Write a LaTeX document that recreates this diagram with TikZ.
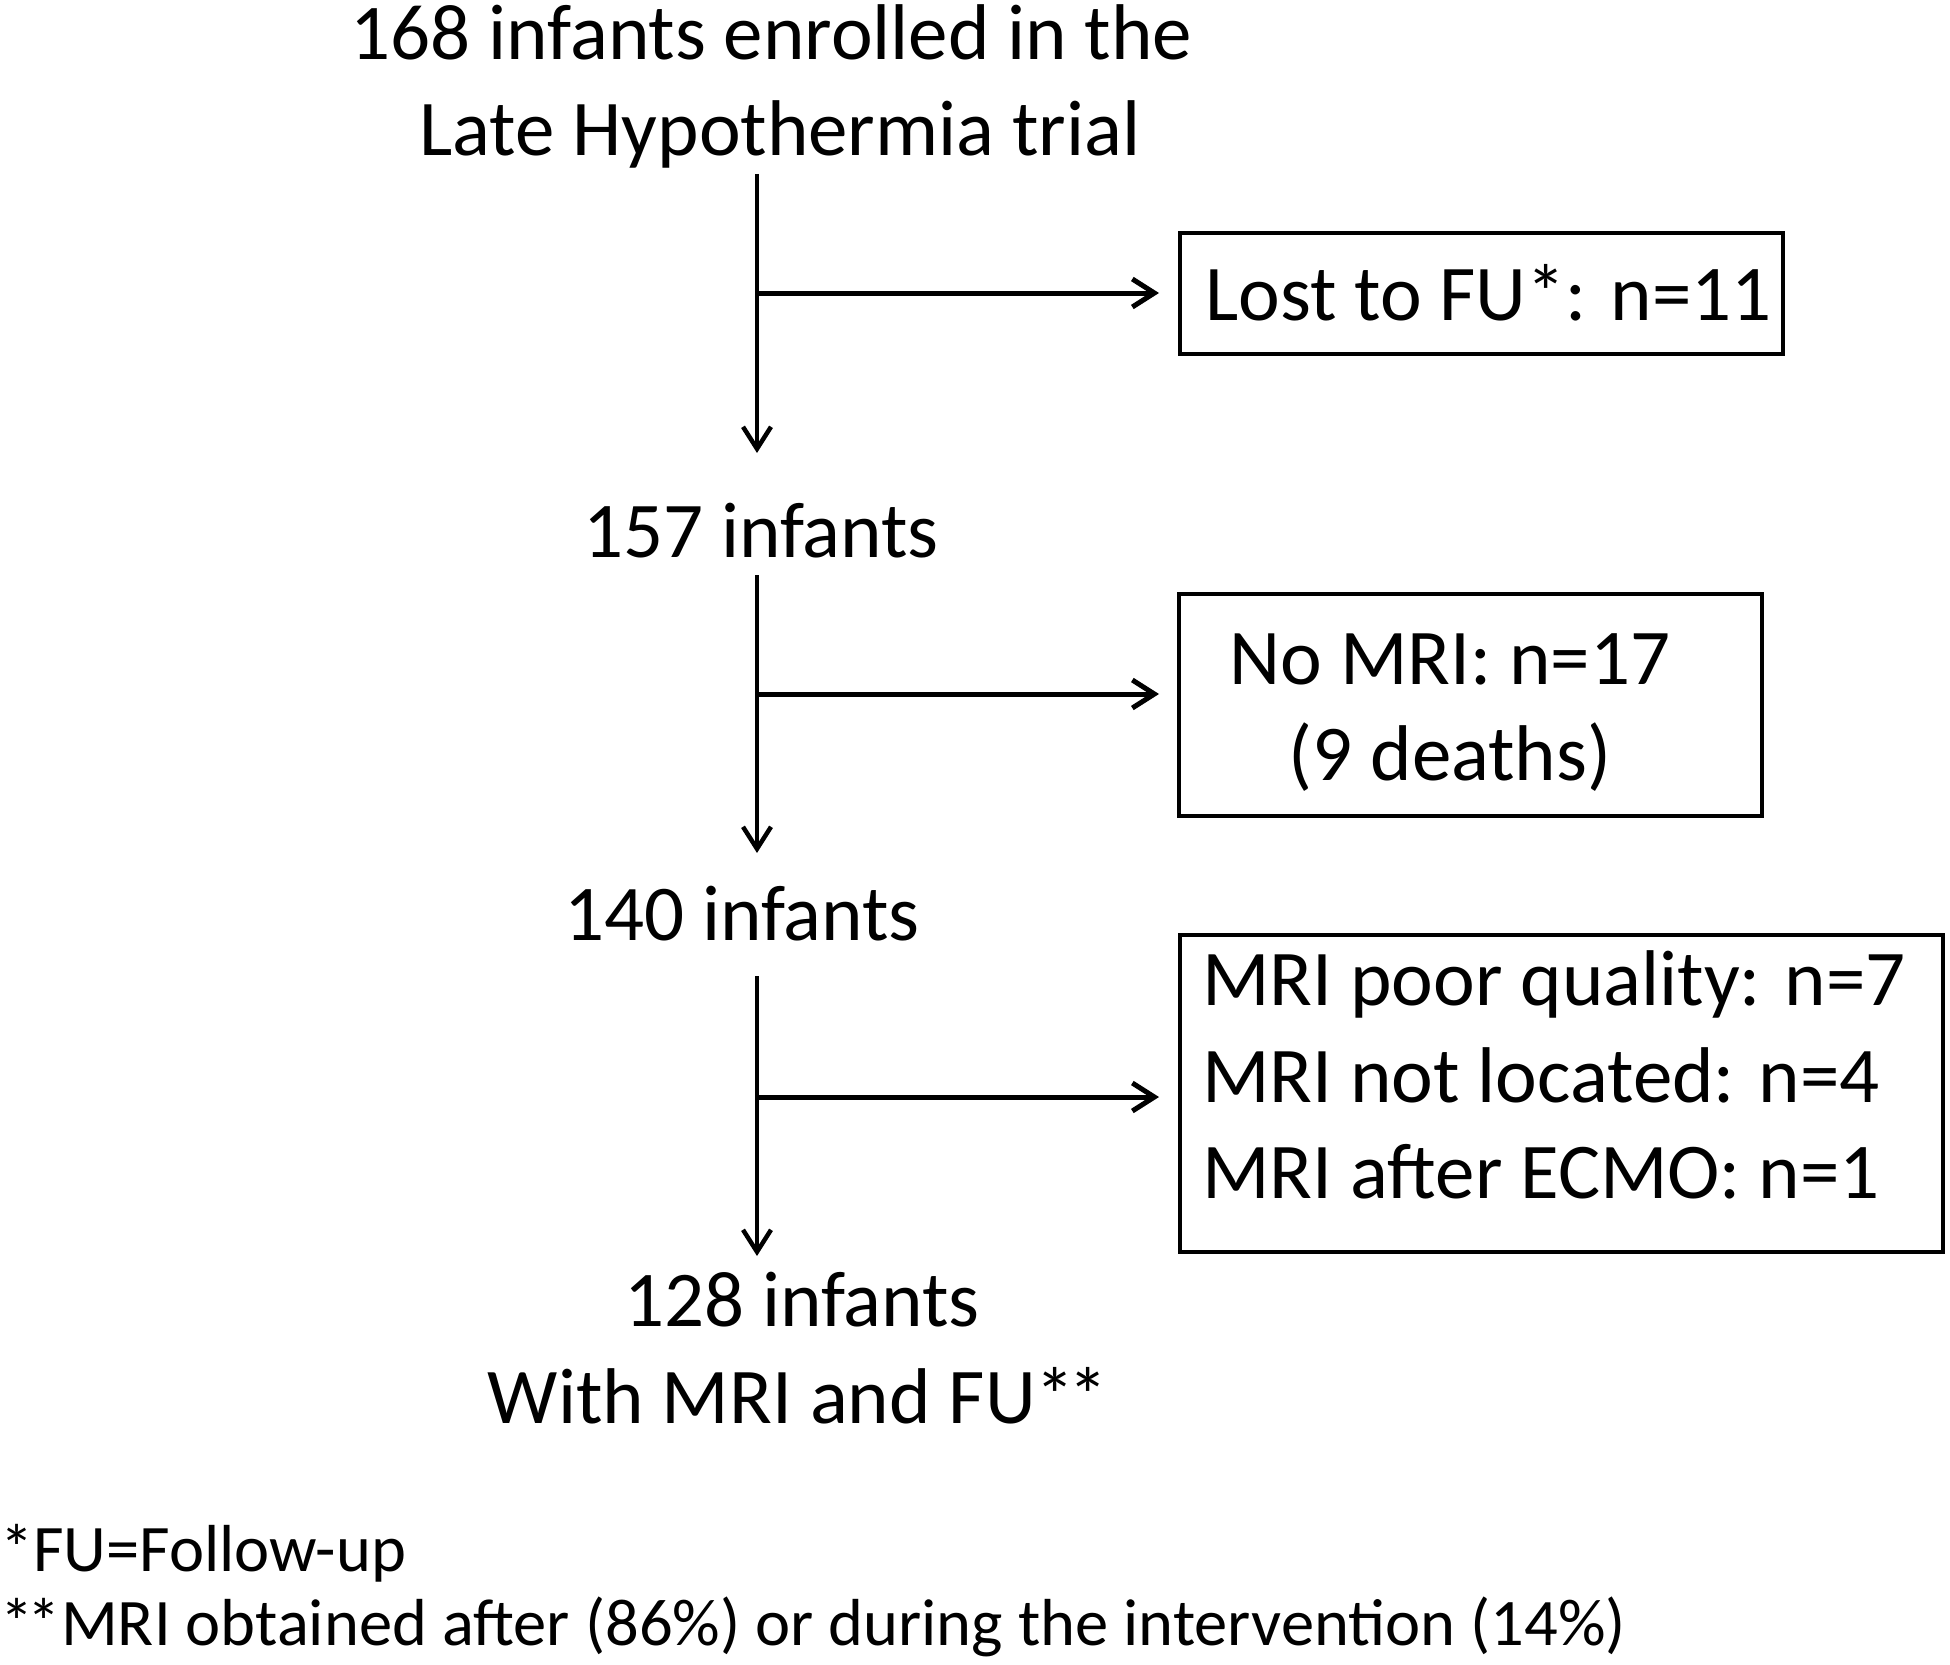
\documentclass[tikz,border=0pt]{standalone}
\usepackage{fontspec}
\setmainfont{Carlito}
\usetikzlibrary{arrows.meta}
\newcommand{\dblast}{*\kern-0.08em*}
\begin{document}
\begin{tikzpicture}[x=1pt,y=-1pt,
  txt/.style={inner sep=0pt, font=\fontsize{79}{96}\selectfont},
  foot/.style={inner sep=0pt, anchor=base west, font=\fontsize{66.5}{81}\selectfont},
  boxframe/.style={draw, line width=4pt, inner sep=0pt},
  spine/.style={line width=4.5pt, -{Straight Barb[length=22pt,width=28pt]}},
  branch/.style={line width=5pt, -{Straight Barb[length=22pt,width=28pt]}}]
\useasboundingbox (0,0) rectangle (1950,1664);

% main column texts
\node[txt, anchor=base] (t1) at (771.5,60) {168 infants enrolled in the};
\node[txt, anchor=base] (t2) at (780,156) {Late Hypothermia trial};
\node[txt, anchor=base] (n157) at (761,557) {157 infants};
\node[txt, anchor=base] (n140) at (742,940) {140 infants};
\node[txt, anchor=base] (n128) at (802,1326) {128 infants};
\node[txt, anchor=base] (with) at (798,1423) {With MRI and FU\dblast};

% boxes
\node[boxframe, minimum width=603pt, minimum height=121pt] (box1) at (1481.5,293.5) {};
\node[boxframe, minimum width=583pt, minimum height=222pt] (box2) at (1470.5,705) {};
\node[boxframe, minimum width=763pt, minimum height=317pt] (box3) at (1561.5,1093.5) {};

\node[txt, anchor=base west] (l1) at (1205,320) {Lost to FU*: n=11};
\node[txt, anchor=base] (l2a) at (1450,684) {No MRI: n=17};
\node[txt, anchor=base] (l2b) at (1450,780) {(9 deaths)};
\node[txt, anchor=base west] (l3a) at (1202,1005) {MRI poor quality: n=7};
\node[txt, anchor=base west] (l3b) at (1202,1102) {MRI not located: n=4};
\node[txt, anchor=base west] (l3c) at (1202,1198) {MRI after ECMO: n=1};

% footnotes
\node[foot] (f1) at (0,1571) {*FU=Follow-up};
\node[foot] (f2) at (0,1645) {\dblast MRI obtained after (86\%) or during the intervention (14\%)};

% connector coordinates
\coordinate (v1s) at (757,174);
\coordinate (v1e) at (757,453);
\coordinate (v2s) at (757,575);
\coordinate (v2e) at (757,853);
\coordinate (v3s) at (757,976);
\coordinate (v3e) at (757,1256);
\coordinate (b1s) at (757,293);
\coordinate (b1e) at (1159,293);
\coordinate (b2s) at (757,694);
\coordinate (b2e) at (1159,694);
\coordinate (b3s) at (757,1097);
\coordinate (b3e) at (1159,1097);

\draw[spine] (v1s) -- (v1e);
\draw[spine] (v2s) -- (v2e);
\draw[spine] (v3s) -- (v3e);
\draw[branch] (b1s) -- (b1e);
\draw[branch] (b2s) -- (b2e);
\draw[branch] (b3s) -- (b3e);
\end{tikzpicture}
\end{document}
